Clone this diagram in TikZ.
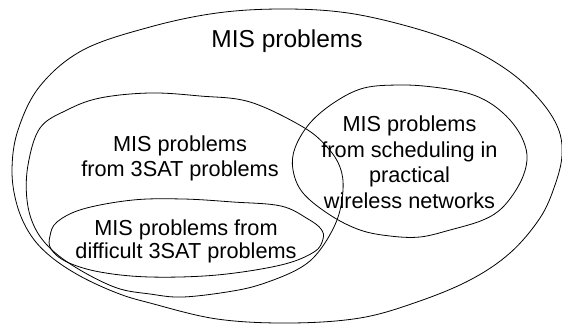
\documentclass[tikz,border=0pt]{standalone}
\usepackage{fontspec}
\setmainfont{Liberation Sans}
\begin{document}
\begin{tikzpicture}[x=1pt,y=-1pt,
  lbl/.style={inner sep=0pt,align=center,anchor=base,font=\fontsize{21.7}{25.5}\selectfont},
  title/.style={inner sep=0pt,anchor=base,font=\fontsize{24.5}{28}\selectfont},
  setline/.style={line width=0.8pt}]
\useasboundingbox (0,0) rectangle (562,324);
% outer set
\draw[setline] plot[smooth cycle,tension=0.6] coordinates {
 (283,9) (348,13) (414,28) (467,47) (510,72) (540,100) (558,128) (562,155)
 (555,185) (540,218) (510,253) (470,280) (417,302) (360,318) (290,323)
 (217,319) (150,303) (117,293) (80,276) (50,256) (30,234) (17,205) (12,170)
 (18,130) (40,86) (83,50) (150,27) (217,13)};
% 3SAT set
\draw[setline] plot[smooth cycle,tension=0.6] coordinates {
 (150,93) (200,96) (250,102) (303,127) (327,147) (340,167) (343,190)
 (337,220) (320,250) (300,268) (265,283) (233,291) (183,297) (150,294)
 (117,288) (80,270) (52,250) (35,228) (27,200) (28,165) (40,128) (67,110) (100,98)};
% difficult set
\draw[setline] plot[smooth cycle,tension=0.6] coordinates {
 (57,222) (83,209) (133,200) (183,199) (233,202) (281,206) (308,219)
 (321,229) (323,239) (314,252) (281,265) (217,275) (150,277) (100,272)
 (67,262) (51,249) (50,236)};
% wireless set
\draw[setline] plot[smooth cycle,tension=0.6] coordinates {
 (364,88) (400,85) (433,87) (467,93) (490,103) (510,120) (523,140) (527,160)
 (520,183) (503,207) (483,220) (450,230) (420,237) (390,236) (360,230)
 (330,215) (303,193) (293,170) (295,148) (310,123) (335,102)};
\node[title] (t) at (287,47) {MIS problems};
\node[lbl] (sat) at (180,176.7) {MIS problems\\from 3SAT problems};
\node[lbl] (dif) at (186,258) {MIS problems from\\[-2.5pt]difficult 3SAT problems};
\node[lbl] (wl) at (409.5,208.3) {MIS problems\\from scheduling in\\practical\\wireless networks};
\end{tikzpicture}
\end{document}
